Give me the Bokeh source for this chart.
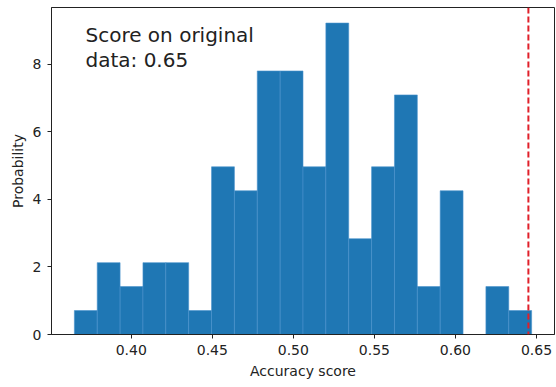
from bokeh.plotting import figure
from bokeh.models import Range1d, FixedTicker, NumeralTickFormatter, Span, Label
from bokeh.embed import file_html
from bokeh.resources import INLINE

# Histogram of permutation scores (counts per bin, 100 permutations, 20 bins)
score_min = 0.3649
score_max = 0.6470
counts = [1, 3, 2, 3, 3, 1, 7, 6, 11, 11, 7, 13, 4, 7, 10, 2, 6, 0, 2, 1]
n_perm = 100
original_score = 0.645
x_ticks = [0.40, 0.45, 0.50, 0.55, 0.60, 0.65]
y_ticks = [0, 2, 4, 6, 8]

nb = len(counts)
width = (score_max - score_min) / nb
lefts = [score_min + i * width for i in range(nb)]
rights = [l + width for l in lefts]
dens = [c / (n_perm * width) for c in counts]

span = score_max - score_min
x0 = score_min - 0.05 * span
x1 = score_max + 0.05 * span
ytop = max(dens) * 1.05

FONT = "DejaVu Sans"
p = figure(width=556, height=387, output_backend="svg", toolbar_location=None,
           x_range=Range1d(x0, x1), y_range=Range1d(0, ytop),
           min_border_left=51, min_border_right=2, min_border_top=7, min_border_bottom=53)
p.grid.visible = False
p.background_fill_color = "white"
p.border_fill_color = "white"
p.outline_line_color = "#222222"
p.outline_line_width = 1

p.quad(left=lefts, right=rights, bottom=0, top=dens,
       fill_color="#1f77b4", line_color="#4a92cc", line_width=0.6)

p.add_layout(Span(location=original_score, dimension="height",
                  line_color="#e0202a", line_width=2, line_dash="6 3"))

p.add_layout(Label(x=x0 + (85 - 51) / 503 * (x1 - x0), y=ytop * (1 - 15 / 326.5),
                   text="Score on original\ndata: 0.65", text_font=FONT,
                   text_font_size="20px", text_color="#222222",
                   text_baseline="top", text_align="left", text_line_height=1.08))

for ax in (p.xaxis[0], p.yaxis[0]):
    ax.axis_line_color = "#222222"
    ax.major_tick_line_color = "#222222"
    ax.major_tick_out = 4
    ax.major_tick_in = 0
    ax.minor_tick_line_color = None
    ax.major_label_text_font = FONT
    ax.major_label_text_font_size = "14px"
    ax.major_label_text_color = "#222222"
    ax.axis_label_text_font = FONT
    ax.axis_label_text_font_size = "14px"
    ax.axis_label_text_font_style = "normal"
    ax.axis_label_text_color = "#222222"

p.xaxis.ticker = FixedTicker(ticks=x_ticks)
p.xaxis.formatter = NumeralTickFormatter(format="0.00")
p.xaxis.axis_label = "Accuracy score"
p.xaxis.major_label_standoff = 6
p.xaxis.axis_label_standoff = 5

p.yaxis.ticker = FixedTicker(ticks=y_ticks)
p.yaxis.axis_label = "Probability"
p.yaxis.major_label_standoff = 6
p.yaxis.axis_label_standoff = 4

open("out.html", "w").write(file_html(p, INLINE))
